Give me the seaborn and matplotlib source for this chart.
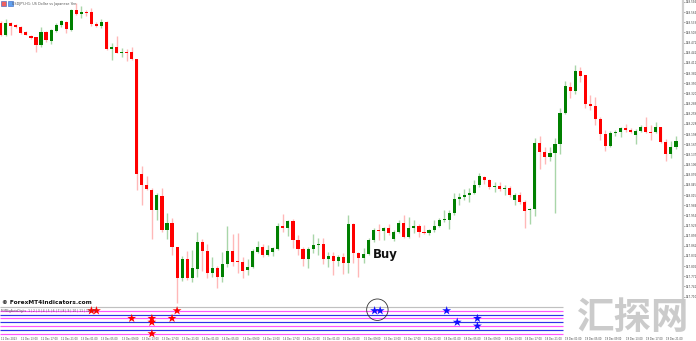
import numpy as np
import pandas as pd
import matplotlib
matplotlib.use("Agg")
import matplotlib.pyplot as plt
import seaborn as sns
from matplotlib.patches import Ellipse, Rectangle

# ---------------- data (USDJPY H1 candles) ----------------
opens = [148.531, 148.495, 148.531, 148.525, 148.519, 148.504, 148.492, 148.489, 148.465, 148.504,
         148.477, 148.507, 148.525, 148.534, 148.510, 148.570, 148.558, 148.564, 148.564, 148.528,
         148.522, 148.534, 148.453, 148.459, 148.441, 148.444, 148.444, 148.423, 148.078, 148.045,
         148.030, 147.970, 148.012, 147.910, 147.931, 147.859, 147.766, 147.823, 147.766, 147.793,
         147.874, 147.847, 147.781, 147.796, 147.769, 147.808, 147.847, 147.817, 147.814, 147.790,
         147.799, 147.844, 147.859, 147.835, 147.844, 147.853, 147.922, 147.916, 147.937, 147.880,
         147.853, 147.823, 147.853, 147.865, 147.868, 147.823, 147.832, 147.817, 147.829, 147.811,
         147.928, 147.841, 147.826, 147.838, 147.880, 147.910, 147.907, 147.916, 147.883, 147.904,
         147.931, 147.889, 147.916, 147.922, 147.904, 147.901, 147.910, 147.922, 147.940, 147.940,
         147.961, 148.003, 148.009, 148.015, 148.021, 148.045, 148.069, 148.060, 148.038, 148.042,
         148.033, 148.036, 148.000, 148.015, 147.994, 147.970, 147.973, 148.171, 148.144, 148.129,
         148.141, 148.168, 148.261, 148.339, 148.327, 148.387, 148.375, 148.288, 148.282, 148.243,
         148.198, 148.162, 148.201, 148.204, 148.216, 148.210, 148.195, 148.207, 148.219, 148.204,
         148.204, 148.219, 148.174, 148.138, 148.159]
highs = [148.537, 148.543, 148.534, 148.528, 148.522, 148.507, 148.495, 148.489, 148.519, 148.507,
         148.513, 148.531, 148.540, 148.537, 148.573, 148.591, 148.582, 148.570, 148.576, 148.534,
         148.543, 148.537, 148.471, 148.492, 148.456, 148.453, 148.459, 148.423, 148.102, 148.072,
         148.036, 148.021, 148.036, 147.961, 147.946, 147.859, 147.832, 147.847, 147.850, 147.904,
         147.883, 147.868, 147.829, 147.802, 147.844, 147.922, 147.898, 147.901, 147.829, 147.823,
         147.853, 147.877, 147.868, 147.865, 147.859, 147.931, 147.958, 147.940, 147.943, 147.895,
         147.859, 147.859, 147.898, 147.886, 147.886, 147.844, 147.844, 147.835, 147.841, 147.955,
         147.931, 147.844, 147.856, 147.886, 147.916, 147.928, 147.919, 147.928, 147.910, 147.940,
         147.955, 147.949, 147.940, 147.928, 147.925, 147.913, 147.940, 147.946, 147.970, 147.970,
         148.021, 148.021, 148.033, 148.036, 148.060, 148.081, 148.072, 148.063, 148.054, 148.054,
         148.045, 148.042, 148.021, 148.024, 148.000, 147.976, 148.186, 148.192, 148.159, 148.159,
         148.186, 148.276, 148.357, 148.354, 148.405, 148.399, 148.375, 148.315, 148.309, 148.249,
         148.210, 148.207, 148.210, 148.219, 148.228, 148.216, 148.213, 148.225, 148.249, 148.225,
         148.234, 148.219, 148.183, 148.177, 148.192]
lows = [148.492, 148.492, 148.495, 148.516, 148.498, 148.494, 148.483, 148.444, 148.459, 148.474,
        148.468, 148.504, 148.519, 148.501, 148.507, 148.555, 148.546, 148.552, 148.522, 148.519,
        148.516, 148.450, 148.420, 148.441, 148.429, 148.417, 148.420, 148.030, 147.985, 148.030,
        147.883, 147.940, 147.904, 147.883, 147.835, 147.690, 147.757, 147.760, 147.754, 147.769,
        147.787, 147.766, 147.769, 147.736, 147.754, 147.799, 147.802, 147.781, 147.766, 147.775,
        147.796, 147.841, 147.829, 147.832, 147.832, 147.850, 147.904, 147.892, 147.856, 147.835,
        147.802, 147.796, 147.841, 147.835, 147.808, 147.799, 147.775, 147.802, 147.778, 147.781,
        147.811, 147.769, 147.811, 147.835, 147.874, 147.880, 147.880, 147.895, 147.877, 147.901,
        147.886, 147.886, 147.901, 147.889, 147.898, 147.895, 147.904, 147.919, 147.934, 147.913,
        147.955, 147.985, 148.000, 147.994, 148.018, 148.039, 148.048, 148.033, 148.024, 148.027,
        148.015, 148.009, 147.985, 147.988, 147.916, 147.928, 147.952, 148.093, 148.108, 148.117,
        147.961, 148.138, 148.258, 148.306, 148.318, 148.354, 148.276, 148.270, 148.225, 148.180,
        148.147, 148.159, 148.192, 148.189, 148.204, 148.201, 148.168, 148.204, 148.201, 148.180,
        148.201, 148.171, 148.117, 148.126, 148.153]
closes = [148.495, 148.531, 148.522, 148.519, 148.501, 148.495, 148.486, 148.465, 148.504, 148.480,
          148.510, 148.525, 148.537, 148.513, 148.570, 148.558, 148.564, 148.561, 148.528, 148.522,
          148.534, 148.453, 148.459, 148.441, 148.444, 148.441, 148.423, 148.078, 148.045, 148.033,
          147.970, 148.015, 147.910, 147.931, 147.859, 147.766, 147.823, 147.766, 147.796, 147.874,
          147.847, 147.781, 147.796, 147.769, 147.808, 147.847, 147.814, 147.814, 147.787, 147.799,
          147.847, 147.859, 147.835, 147.850, 147.856, 147.922, 147.916, 147.937, 147.880, 147.853,
          147.823, 147.853, 147.865, 147.868, 147.823, 147.832, 147.817, 147.829, 147.811, 147.928,
          147.841, 147.826, 147.838, 147.880, 147.910, 147.907, 147.916, 147.901, 147.904, 147.931,
          147.889, 147.916, 147.922, 147.904, 147.901, 147.910, 147.922, 147.940, 147.943, 147.961,
          148.003, 148.009, 148.015, 148.021, 148.045, 148.072, 148.060, 148.039, 148.041, 148.033,
          148.036, 148.015, 148.015, 147.994, 147.967, 147.973, 148.171, 148.144, 148.129, 148.141,
          148.168, 148.261, 148.342, 148.327, 148.387, 148.372, 148.288, 148.282, 148.243, 148.198,
          148.162, 148.201, 148.204, 148.216, 148.210, 148.204, 148.207, 148.219, 148.204, 148.201,
          148.219, 148.174, 148.138, 148.159, 148.177]

# indicator signals: candle position and indicator row
red_star_x = [18, 19, 26, 30, 30, 34, 35, 30]
red_star_row = [0, 0, 2, 2, 3, 2, 0, 6]
blue_star_x = [74.2, 75.3, 88.5, 90.6, 94.6, 94.6]
blue_star_row = [0, 0, 0, 3, 2, 4]

x_tick_labels = ["12 Dec 2023", "12 Dec 13:00", "12 Dec 17:00", "12 Dec 21:00", "13 Dec 01:00",
                 "13 Dec 05:00", "13 Dec 09:00", "13 Dec 13:00", "13 Dec 17:00", "13 Dec 21:00",
                 "14 Dec 01:00", "14 Dec 05:00", "14 Dec 09:00", "14 Dec 13:00", "14 Dec 17:00",
                 "14 Dec 21:00", "15 Dec 01:00", "15 Dec 05:00", "15 Dec 09:00", "15 Dec 13:00",
                 "15 Dec 17:00", "15 Dec 21:00", "18 Dec 01:00", "18 Dec 05:00", "18 Dec 09:00",
                 "18 Dec 13:00", "18 Dec 17:00", "18 Dec 21:00", "19 Dec 01:00", "19 Dec 05:00",
                 "19 Dec 09:00", "19 Dec 13:00", "19 Dec 17:00", "19 Dec 21:00"]

# ---------------- figure ----------------
sns.set_style("white")
plt.rcParams["font.family"] = ["DejaVu Sans", "Noto Sans CJK SC"]

W, H = 696, 341
fig = plt.figure(figsize=(W / 100, H / 100), dpi=100)


def rect(x0, y0, x1, y1):
    return [x0 / W, 1 - y1 / H, (x1 - x0) / W, (y1 - y0) / H]


df = pd.DataFrame({"open": opens, "high": highs, "low": lows, "close": closes})
df["idx"] = np.arange(len(df))
df["up"] = df["close"] >= df["open"]
df["bottom"] = df[["open", "close"]].min(axis=1)
df["height"] = (df["close"] - df["open"]).abs().clip(lower=0.0016)

ax = fig.add_axes(rect(0, 0, 683, 306))
body_col = np.where(df["up"], "#008000", "#ff0000")
wick_col = np.where(df["up"], "#a9d6a9", "#ffb8b8")
ax.vlines(df["idx"], df["low"], df["high"], colors=wick_col, linewidth=1.0, zorder=1)
ax.bar(df["idx"], df["height"], bottom=df["bottom"], width=0.62, color=body_col,
       linewidth=0, zorder=2)
ax.set_xlim(-0.14, 135.4)
ax.set_ylim(147.682, 148.600)
for s in ["top", "left", "bottom"]:
    ax.spines[s].set_visible(False)
ax.spines["right"].set_color("#cfcfcf")
ax.spines["right"].set_linewidth(1.6)
ax.set_xticks([])
ax.yaxis.tick_right()
yt = 148.594 - 0.03048 * np.arange(30)
ax.set_yticks(yt)
ax.set_yticklabels([f"{v:.3f}" for v in yt], fontsize=2.0, color="#444444")
ax.tick_params(axis="y", length=1.5, width=0.5, color="#888888", pad=0.6)

ax.text(73.9, 147.835, "Buy", fontsize=8.5, fontweight="bold", color="#111111",
        va="center", ha="left")
ax.text(0.018, 0.993, "USDJPY,H1: US Dollar vs Japanese Yen", transform=ax.transAxes,
        fontsize=2.4, color="#555555", va="top", ha="left")
ax.add_patch(Rectangle((0.001, 0.982), 0.0075, 0.014, transform=ax.transAxes,
                       facecolor="#f06060", edgecolor="#3060c0", linewidth=0.4))
ax.add_patch(Rectangle((0.011, 0.982), 0.0075, 0.014, transform=ax.transAxes,
                       facecolor="#60a0f0", edgecolor="#3060c0", linewidth=0.4))

# ---------------- indicator pane ----------------
ax2 = fig.add_axes(rect(0, 305, 683, 334))
ax2.set_xlim(-0.14, 135.4)
ax2.set_ylim(6.08, -1.49)
levels = np.arange(-1, 7)
line_cols = ["#c0c0c0"] + ["#ff55ff" if k % 2 == 0 else "#3030e8" for k in range(7)]
ax2.hlines(levels, -0.14, 111.6, colors=line_cols, linewidth=0.85, zorder=1, clip_on=False)
sns.scatterplot(x=red_star_x, y=red_star_row, marker="*", s=45, color="#ff0000",
                edgecolor="none", ax=ax2, zorder=3, clip_on=False)
sns.scatterplot(x=blue_star_x, y=blue_star_row, marker="*", s=45, color="#1010ff",
                edgecolor="none", ax=ax2, zorder=3, clip_on=False)
ax2.add_patch(Ellipse((74.75, -0.26), 4.25, 5.6, fill=False, edgecolor="#333333",
                      linewidth=0.6, clip_on=False, zorder=4))
for s in ["top", "left", "right", "bottom"]:
    ax2.spines[s].set_visible(False)
ax2.set_yticks([])
ax2.set_xticks(np.arange(len(x_tick_labels)) * 4)
ax2.set_xticklabels(x_tick_labels, fontsize=1.8, color="#444444", ha="left")
ax2.tick_params(axis="x", length=2, width=0.4, color="#888888", pad=0.3)
ax2.text(0.003, 0.0, "MMBigAutoDigits  1 | 2 | 3 | 4 | 5 | 6 | 7 | 8 | 9 | 10 | 11 | 12 | 13",
         transform=ax2.transData, fontsize=2.2, color="#555555", va="center", ha="left",
         zorder=5)

fig.text(2 / W, 1 - 302 / H, "© ForexMT4Indicators.com", fontsize=4.2,
         fontweight="bold", color="#111111", va="center", ha="left")
fig.text(632 / W, 1 - 318 / H, "汇探网", fontsize=27, fontweight="bold",
         color="#c9c9c9", va="center", ha="center",
         family=["Noto Sans CJK SC", "DejaVu Sans"], alpha=0.95)

fig.savefig("out.png", dpi=100)
